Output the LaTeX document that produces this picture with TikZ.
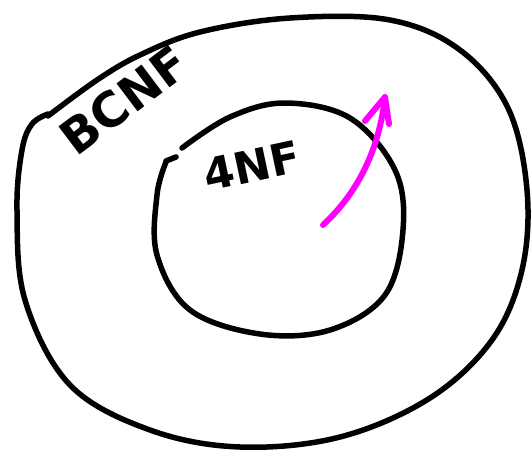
\documentclass[tikz,border=0pt]{standalone}
\usepackage{fontspec}
\setmainfont{DejaVu Sans}
\definecolor{mag}{RGB}{255,0,255}
\tikzset{
  blob/.style={line width=5.5pt, line cap=round, line join=round, black},
  label/.style={font=\bfseries, inner sep=0pt},
  arr/.style={line width=6pt, line cap=round, line join=round, mag}
}
\begin{document}
\begin{tikzpicture}[x=1pt,y=-1pt]
\useasboundingbox (0,0) rectangle (531,451);
% outer blob
\draw[blob] plot[smooth, tension=0.6] coordinates {(48,116) (97,80) (140,55) (200,32) (290,18) (390,20) (460,50) (508,108) (527,190) (522,270) (492,340) (430,398) (340,437) (240,447) (150,430) (70,385) (25,300) (17,210) (22,150) (32,124) (48,114)};
% inner circle
\draw[blob] plot[smooth, tension=0.6] coordinates {(182,148) (230,117) (285,103) (350,118) (395,170) (403,230) (385,295) (330,330) (260,334) (190,310) (157,255) (157,195) (166,162)};
\draw[blob] (166,161) -- (176,157);
% labels
\node[label, font=\bfseries\fontsize{48}{48}\selectfont, rotate=37] (bcnf) at (124,100) {BCNF};
\node[label, font=\bfseries\fontsize{44}{44}\selectfont, rotate=12] (fnf) at (252,166) {4NF};
% arrow
\coordinate (a0) at (323,225);
\coordinate (a1) at (385,97);
\coordinate (b1) at (365,121);
\coordinate (b2) at (389,124);
\draw[arr] (a0) .. controls (350,200) and (378,160) .. (a1);
\draw[arr] (b1) -- (a1) -- (b2);
\end{tikzpicture}
\end{document}
